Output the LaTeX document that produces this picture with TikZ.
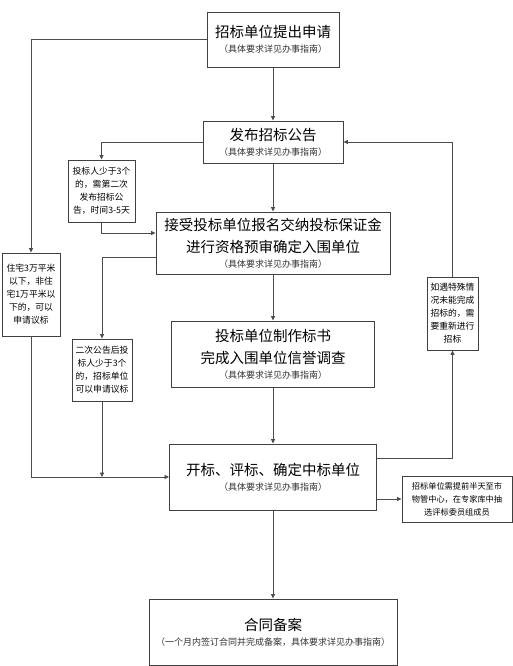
\documentclass[tikz,border=0pt]{standalone}
\usepackage{fontspec}
\setmainfont{Noto Sans CJK SC}
\usetikzlibrary{arrows.meta,calc}
\tikzset{
  box/.style={draw=black!75, line width=0.9pt, fill=white, align=center, inner sep=0pt,
    font=\fontsize{14.5}{22}\selectfont},
  note/.style={draw=black!75, line width=0.9pt, fill=white, align=center, inner sep=0pt,
    font=\fontsize{8.8}{13}\selectfont},
  conn/.style={draw=black!70, line width=0.8pt, -{Triangle[length=4.5pt,width=4pt]}},
  line/.style={draw=black!70, line width=0.8pt},
}
\newcommand{\subt}[1]{{\fontsize{9}{11}\selectfont\color{black!80}#1}}
\begin{document}
\begin{tikzpicture}[x=1pt,y=-1pt]
\useasboundingbox (0,0) rectangle (513,666);
\node[box, minimum width=132pt, minimum height=55pt] (b1) at (273,39.5) {招标单位提出申请\\[-7pt]\subt{（具体要求详见办事指南）}};
\node[box, minimum width=140pt, minimum height=42pt] (b2) at (273,142) {发布招标公告\\[-7pt]\subt{（具体要求详见办事指南）}};
\node[box, minimum width=234pt, minimum height=62pt] (b3) at (273,243) {接受投标单位报名交纳投标保证金\\进行资格预审确定入围单位\\[-7pt]\subt{（具体要求详见办事指南）}};
\node[box, minimum width=203pt, minimum height=66pt] (b4) at (273,354) {投标单位制作标书\\完成入围单位信誉调查\\[-7pt]\subt{（具体要求详见办事指南）}};
\node[box, minimum width=207pt, minimum height=66pt] (b5) at (273,477) {开标、评标、确定中标单位\\[-7pt]\subt{（具体要求详见办事指南）}};
\node[box, minimum width=248pt, minimum height=66pt] (b6) at (273,632) {合同备案\\[-7pt]\subt{（一个月内签订合同并完成备案，具体要求详见办事指南）}};
\node[note, minimum width=67pt, minimum height=62pt] (n1) at (101.5,191) {投标人少于3个\\的，需第二次\\发布招标公\\告，时间3-5天};
\node[note, minimum width=58pt, minimum height=83pt] (n2) at (31,294.5) {住宅3万平米\\以下，非住\\宅1万平米以\\下的，可以\\申请议标};
\node[note, minimum width=60pt, minimum height=62pt] (n3) at (102,370) {二次公告后投\\标人少于3个\\的，招标单位\\可以申请议标};
\node[note, minimum width=51pt, minimum height=73pt] (n4) at (452.5,313.5) {如遇特殊情\\况未能完成\\招标的，需\\要重新进行\\招标};
\node[note, minimum width=110pt, minimum height=46pt, font=\fontsize{8.2}{13}\selectfont] (n5) at (457,499) {招标单位需提前半天至市\\物管中心，在专家库中抽\\选评标委员组成员};
\draw[conn] (b1) -- (b2);
\draw[conn] (b2) -- (b3);
\draw[conn] (b3) -- (b4);
\draw[conn] (b4) -- (b5);
\draw[conn] (b5) -- (b6);
\draw[conn] (b1.west) -| (n2.north);
\draw[conn] (b2.west) -| (n1.north);
\draw[conn] (n1.south) |- ([yshift=10pt]b3.west);
\draw[conn] ([yshift=-14pt]b3.west) -| (n3.north);
\draw[conn] (n3.south) -- (n3.south |- b5.west);
\draw[conn] (n2.south) |- (b5.west);
\draw[conn] ([yshift=19pt]b5.east) -| (n4.south);
\draw[conn] (n4.north) |- (b2.east);
\draw[conn] (b5.east |- n5.west) -- (n5.west);
\end{tikzpicture}
\end{document}
